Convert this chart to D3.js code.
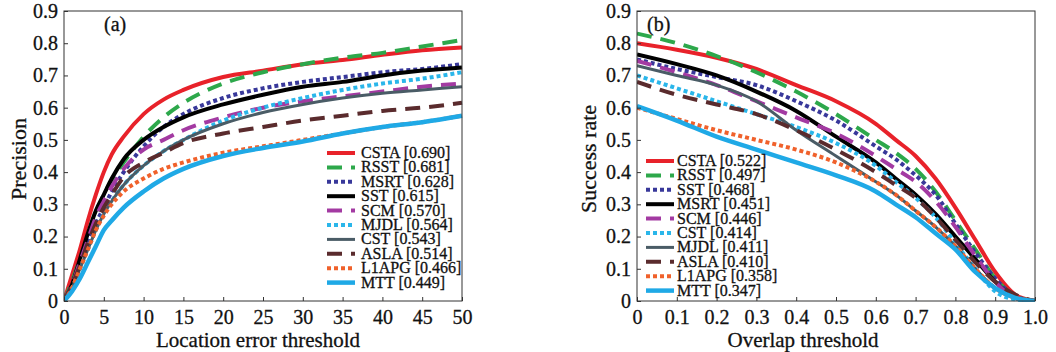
<!DOCTYPE html>
<html>
<head>
<meta charset="utf-8">
<script src="https://d3js.org/d3.v7.min.js"></script>
<style>
  body { margin: 0; background: #fff; }
  svg text { font-family: "Liberation Serif", "DejaVu Serif", serif; fill: #111; stroke: #111; stroke-width: 0.3px; }
</style>
</head>
<body>
<div id="chart"></div>
<script>
// ---- data (a): precision vs location error threshold
const precX = [0, 1, 2, 3, 4, 5, 6, 7.5, 10, 12.5, 15, 20, 25, 30, 35, 40, 45, 50];
const precNames = ["CSTA [0.690]", "RSST [0.681]", "MSRT [0.628]", "SST [0.615]", "SCM [0.570]",
                   "MJDL [0.564]", "CST [0.543]", "ASLA [0.514]", "L1APG [0.466]", "MTT [0.449]"];
const precCSTA  = [0, 0.08, 0.16, 0.25, 0.33, 0.40, 0.455, 0.51, 0.58, 0.625, 0.655, 0.695, 0.715, 0.735, 0.748, 0.764, 0.778, 0.787];
const precRSST  = [0, 0.06, 0.13, 0.20, 0.27, 0.33, 0.375, 0.43, 0.51, 0.57, 0.615, 0.675, 0.71, 0.735, 0.755, 0.77, 0.79, 0.81];
const precMSRT  = [0, 0.05, 0.11, 0.18, 0.24, 0.29, 0.34, 0.40, 0.48, 0.54, 0.58, 0.63, 0.66, 0.68, 0.695, 0.71, 0.72, 0.735];
const precSST   = [0, 0.05, 0.13, 0.21, 0.28, 0.33, 0.38, 0.44, 0.50, 0.54, 0.57, 0.61, 0.64, 0.665, 0.68, 0.70, 0.715, 0.725];
const precSCM   = [0, 0.05, 0.12, 0.19, 0.26, 0.31, 0.355, 0.41, 0.47, 0.50, 0.53, 0.57, 0.60, 0.62, 0.635, 0.65, 0.665, 0.675];
const precMJDL  = [0, 0.04, 0.10, 0.16, 0.22, 0.27, 0.31, 0.36, 0.42, 0.465, 0.50, 0.56, 0.60, 0.63, 0.655, 0.675, 0.69, 0.71];
const precCST   = [0, 0.04, 0.10, 0.16, 0.22, 0.27, 0.31, 0.36, 0.42, 0.465, 0.50, 0.55, 0.585, 0.61, 0.63, 0.645, 0.655, 0.665];
const precASLA  = [0, 0.05, 0.11, 0.18, 0.24, 0.29, 0.33, 0.385, 0.43, 0.46, 0.49, 0.52, 0.54, 0.56, 0.575, 0.59, 0.60, 0.615];
const precL1APG = [0, 0.04, 0.10, 0.16, 0.22, 0.265, 0.30, 0.34, 0.38, 0.41, 0.43, 0.46, 0.48, 0.50, 0.52, 0.54, 0.555, 0.575];
const precMTT   = [0, 0.03, 0.07, 0.12, 0.17, 0.22, 0.25, 0.29, 0.34, 0.38, 0.41, 0.45, 0.475, 0.495, 0.52, 0.54, 0.555, 0.575];

// ---- data (b): success rate vs overlap threshold
const succX = [0, 0.1, 0.2, 0.3, 0.4, 0.5, 0.6, 0.65, 0.7, 0.75, 0.8, 0.85, 0.9, 0.95, 1.0];
const succNames = ["CSTA [0.522]", "RSST [0.497]", "SST [0.468]", "MSRT [0.451]", "SCM [0.446]",
                   "CST [0.414]", "MJDL [0.411]", "ASLA [0.410]", "L1APG [0.358]", "MTT [0.347]"];
const succCSTA  = [0.80, 0.78, 0.755, 0.72, 0.67, 0.62, 0.55, 0.50, 0.45, 0.38, 0.29, 0.19, 0.09, 0.02, 0];
const succRSST  = [0.83, 0.80, 0.76, 0.71, 0.65, 0.58, 0.50, 0.46, 0.41, 0.34, 0.25, 0.16, 0.07, 0.015, 0];
const succSST   = [0.75, 0.72, 0.695, 0.67, 0.62, 0.56, 0.48, 0.44, 0.39, 0.33, 0.24, 0.15, 0.07, 0.015, 0];
const succMSRT  = [0.765, 0.735, 0.70, 0.65, 0.59, 0.51, 0.43, 0.38, 0.33, 0.27, 0.20, 0.13, 0.06, 0.01, 0];
const succSCM   = [0.745, 0.71, 0.67, 0.62, 0.57, 0.52, 0.45, 0.41, 0.37, 0.31, 0.23, 0.14, 0.06, 0.01, 0];
const succCST   = [0.70, 0.66, 0.62, 0.58, 0.54, 0.49, 0.42, 0.37, 0.32, 0.26, 0.18, 0.10, 0.03, 0.005, 0];
const succMJDL  = [0.73, 0.70, 0.67, 0.62, 0.53, 0.45, 0.37, 0.33, 0.28, 0.23, 0.17, 0.10, 0.04, 0.01, 0];
const succASLA  = [0.68, 0.64, 0.61, 0.58, 0.53, 0.47, 0.40, 0.36, 0.32, 0.26, 0.19, 0.12, 0.06, 0.02, 0];
const succL1APG = [0.60, 0.565, 0.53, 0.50, 0.47, 0.43, 0.37, 0.33, 0.28, 0.23, 0.17, 0.10, 0.04, 0.01, 0];
const succMTT   = [0.605, 0.56, 0.51, 0.47, 0.43, 0.39, 0.34, 0.30, 0.26, 0.21, 0.16, 0.09, 0.04, 0.01, 0];

const yTicks = [0, 0.1, 0.2, 0.3, 0.4, 0.5, 0.6, 0.7, 0.8, 0.9];
const precTicks = [0, 5, 10, 15, 20, 25, 30, 35, 40, 45, 50];
const succTicks = [0, 0.1, 0.2, 0.3, 0.4, 0.5, 0.6, 0.7, 0.8, 0.9, 1.0];

// line styles by legend slot (same in both panels)
const colors = ["#e8222a", "#2da84b", "#38389a", "#000000", "#a33aa2",
                "#2ab6ea", "#4a5c66", "#5a2b2d", "#f0612b", "#1fa9e6"];
const dashes = [null, "15,9", "4,3", null, "15,9", "4,3", null, "15,9", "4,3", null];
const widths = [4, 4, 4, 4, 4, 4, 3, 4, 4, 4.5];

const svg = d3.select("#chart").append("svg")
  .attr("width", 1056).attr("height", 352);

function panel(opt) {
  const x = d3.scaleLinear().domain(opt.xDomain).range([opt.left, opt.right]);
  const y = d3.scaleLinear().domain([0, 0.9]).range([301, 11]);
  const g = svg.append("g");
  const x0 = x.range()[0], x1 = x.range()[1];

  const clipId = "clip" + opt.id;
  svg.append("clipPath").attr("id", clipId).append("rect")
    .attr("x", x0).attr("y", y(0.9) - 3)
    .attr("width", x1 - x0 + 2).attr("height", y(0) - y(0.9) + 4);

  const line = d3.line()
    .x(d => x(d[0])).y(d => y(d[1]))
    .curve(d3.curveMonotoneX);

  const lines = g.append("g").attr("clip-path", `url(#${clipId})`);
  opt.series.forEach((vals, i) => {
    lines.append("path")
      .datum(opt.xs.map((v, j) => [v, vals[j]]))
      .attr("d", line)
      .attr("fill", "none")
      .attr("stroke", colors[i])
      .attr("stroke-width", widths[i])
      .attr("stroke-dasharray", dashes[i]);
  });

  // axes with inward ticks
  const xAxis = g.append("g").attr("transform", `translate(0,${y(0)})`)
    .call(d3.axisBottom(x).tickValues(opt.xTicks).tickSizeInner(-4).tickSizeOuter(0)
      .tickPadding(9).tickFormat(opt.xFmt));
  const yAxis = g.append("g").attr("transform", `translate(${x0},0)`)
    .call(d3.axisLeft(y).tickValues(yTicks).tickSizeInner(-4).tickSizeOuter(0)
      .tickPadding(6).tickFormat(d => d === 0 ? "0" : d3.format(".1f")(d)));
  [xAxis, yAxis].forEach(a => {
    a.select(".domain").remove();
    a.selectAll("line").attr("stroke", "#333");
    a.selectAll("text").style("font-size", "20px").attr("fill", "#111");
  });

  g.append("rect")
    .attr("x", x0).attr("y", y(0.9))
    .attr("width", x1 - x0).attr("height", y(0) - y(0.9))
    .attr("fill", "none").attr("stroke", "#333").attr("stroke-width", 1);

  // titles
  g.append("text")
    .attr("x", opt.xLabelX).attr("y", 347)
    .attr("text-anchor", "middle").style("font-size", "21px")
    .text(opt.xLabel);
  g.append("text")
    .attr("transform", `translate(${opt.yLabelX},159) rotate(-90)`)
    .attr("text-anchor", "middle").style("font-size", "22px")
    .text(opt.yLabel);
  g.append("text")
    .attr("x", opt.tagX).attr("y", 31)
    .style("font-size", "20px")
    .text(opt.tag);

  // legend
  const leg = g.append("g");
  opt.names.forEach((name, i) => {
    const ly = opt.legY + i * 14.4;
    leg.append("line")
      .attr("x1", opt.legX).attr("x2", opt.legX + 28)
      .attr("y1", ly).attr("y2", ly)
      .attr("stroke", colors[i]).attr("stroke-width", widths[i])
      .attr("stroke-dasharray", dashes[i]);
    leg.append("text")
      .attr("x", opt.legX + opt.legGap).attr("y", ly + 5)
      .style("font-size", "16px")
      .text(name);
  });
}

panel({
  id: "a", tag: "(a)", tagX: 104,
  left: 64, right: 462, xDomain: [0, 50], xTicks: precTicks, xFmt: d3.format("d"),
  xs: precX,
  series: [precCSTA, precRSST, precMSRT, precSST, precSCM, precMJDL, precCST, precASLA, precL1APG, precMTT],
  names: precNames,
  xLabel: "Location error threshold", xLabelX: 258, yLabel: "Precision", yLabelX: 26,
  legX: 327, legY: 153, legGap: 34
});

panel({
  id: "b", tag: "(b)", tagX: 647,
  left: 637, right: 1035, xDomain: [0, 1], xTicks: succTicks,
  xFmt: d => d === 0 ? "0" : d3.format(".1f")(d),
  xs: succX,
  series: [succCSTA, succRSST, succSST, succMSRT, succSCM, succCST, succMJDL, succASLA, succL1APG, succMTT],
  names: succNames,
  xLabel: "Overlap threshold", xLabelX: 803, yLabel: "Success rate", yLabelX: 596,
  legX: 646, legY: 161, legGap: 31
});
</script>
</body>
</html>
